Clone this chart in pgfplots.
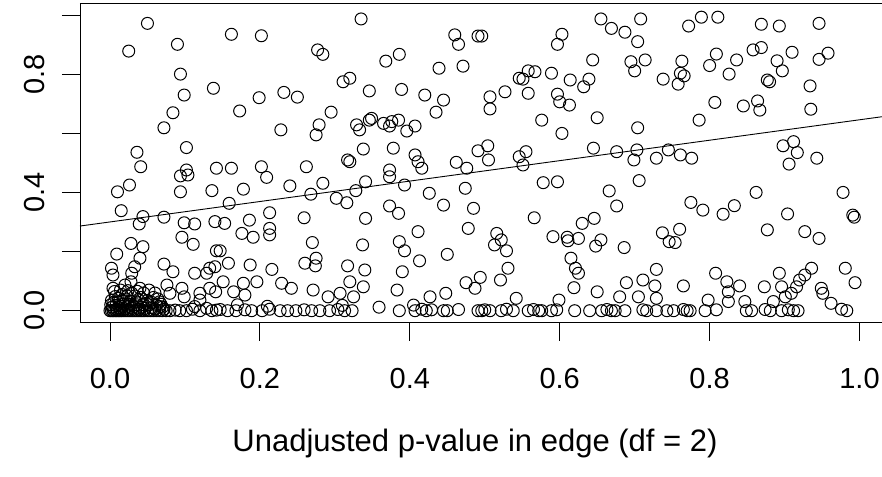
\documentclass[border=0pt]{standalone}
\usepackage{fontspec}
\setmainfont{Liberation Sans}
\usepackage{pgfplots}
\pgfplotsset{compat=1.18}
\begin{document}
\begin{tikzpicture}
\begin{axis}[
 at={(0,0)}, anchor=south west,
 scale only axis, width=802pt, height=318.6pt,
 xmin=-0.04, xmax=1.03, ymin=-0.04, ymax=1.04,
 axis x line*=bottom, axis y line*=left,
 axis line style={-, line width=0.9pt, black},
 tick align=outside, major tick length=18pt,
 tick style={line width=0.9pt, black},
 xtick={0,0.2,0.4,0.6,0.8,1.0},
 ytick={0,0.4,0.8},
 extra y ticks={0.2,0.6,1.0}, extra y tick labels={},
 /pgf/number format/assume math mode=true,
 xticklabel={\pgfmathprintnumber[fixed,fixed zerofill,precision=1]{\tick}},
 yticklabel={\pgfmathprintnumber[fixed,fixed zerofill,precision=1]{\tick}},
 ticklabel style={font=\fontsize{29}{34}\selectfont},
 xticklabel style={anchor=base, yshift=-48pt},
 yticklabel shift=17pt,
 yticklabel style={anchor=base, rotate=90},
 xlabel={Unadjusted p-value in edge (df = 2)},
 xlabel style={font=\fontsize{31}{36}\selectfont, at={(rel axis cs:0.4925,0)}, anchor=base, yshift=-129pt},
 clip=true,
]
\addplot[only marks, mark=o, mark size=6pt, mark options={line width=1pt, black}] coordinates {
(0.050,0.974)(0.025,0.880)(0.090,0.903)(0.094,0.802)(0.138,0.754)(0.099,0.731)(0.084,0.671)(0.072,0.620)(0.036,0.537)(0.102,0.553)(0.041,0.488)(0.102,0.477)(0.142,0.483)
(0.335,0.989)(0.162,0.937)(0.202,0.932)(0.277,0.884)(0.284,0.869)(0.311,0.776)(0.320,0.788)(0.346,0.745)(0.199,0.722)(0.232,0.740)(0.250,0.724)(0.173,0.677)(0.295,0.673)(0.228,0.613)(0.279,0.630)(0.275,0.596)(0.329,0.630)(0.333,0.613)(0.346,0.646)(0.338,0.548)(0.317,0.511)(0.162,0.483)(0.202,0.488)(0.262,0.488)
(0.460,0.935)(0.465,0.903)(0.491,0.931)(0.496,0.931)(0.386,0.869)(0.368,0.846)(0.439,0.822)(0.471,0.829)(0.546,0.788)(0.389,0.750)(0.420,0.731)(0.445,0.714)(0.435,0.673)(0.507,0.725)(0.527,0.742)(0.507,0.684)(0.349,0.652)(0.365,0.635)(0.376,0.641)(0.385,0.646)(0.373,0.626)(0.396,0.609)(0.407,0.626)(0.378,0.551)(0.407,0.528)(0.462,0.503)(0.491,0.542)(0.504,0.559)(0.505,0.511)(0.416,0.483)(0.373,0.477)(0.476,0.483)(0.546,0.522)
(0.655,0.989)(0.708,0.989)(0.669,0.957)(0.687,0.944)(0.704,0.912)(0.603,0.937)(0.597,0.903)(0.644,0.850)(0.695,0.844)(0.714,0.850)(0.700,0.813)(0.738,0.785)(0.558,0.813)(0.567,0.810)(0.551,0.785)(0.589,0.805)(0.614,0.782)(0.639,0.785)(0.632,0.759)(0.558,0.737)(0.597,0.734)(0.600,0.708)(0.613,0.697)(0.576,0.646)(0.650,0.654)(0.603,0.601)(0.704,0.620)(0.555,0.539)(0.551,0.494)(0.645,0.551)(0.676,0.539)(0.703,0.545)(0.699,0.511)(0.729,0.517)(0.745,0.545)
(0.772,0.965)(0.789,0.995)(0.811,0.995)(0.869,0.971)(0.893,0.965)(0.946,0.974)(0.763,0.846)(0.809,0.870)(0.800,0.831)(0.836,0.850)(0.826,0.802)(0.858,0.884)(0.869,0.892)(0.890,0.847)(0.910,0.876)(0.897,0.813)(0.877,0.782)(0.880,0.776)(0.946,0.852)(0.761,0.805)(0.766,0.796)(0.758,0.768)(0.934,0.762)(0.807,0.706)(0.845,0.694)(0.864,0.711)(0.867,0.680)(0.935,0.683)(0.786,0.646)(0.898,0.559)(0.912,0.573)(0.917,0.536)(0.906,0.497)(0.943,0.517)(0.761,0.528)(0.776,0.517)(0.958,0.873)
(0.094,0.457)(0.104,0.460)(0.026,0.426)(0.010,0.403)(0.094,0.403)(0.136,0.407)(0.015,0.339)(0.044,0.319)(0.039,0.294)(0.072,0.317)(0.099,0.298)(0.113,0.294)(0.140,0.302)(0.096,0.249)(0.111,0.225)(0.028,0.228)(0.044,0.217)(0.142,0.203)(0.009,0.192)(0.040,0.178)(0.002,0.144)(0.033,0.149)(0.029,0.127)(0.004,0.121)(0.072,0.158)(0.084,0.132)(0.113,0.127)(0.133,0.144)(0.129,0.127)(0.140,0.149)(0.028,0.098)(0.004,0.076)(0.020,0.087)(0.040,0.076)(0.076,0.087)(0.080,0.059)(0.096,0.076)(0.099,0.047)(0.120,0.059)(0.133,0.076)(0.141,0.064)(0.113,0.014)(0.129,0.008)(0.142,0.002)(0.087,0.002)(0.102,0.000)(0.067,0.014)(0.120,0.036)
(0.209,0.452)(0.320,0.505)(0.178,0.412)(0.240,0.423)(0.284,0.432)(0.268,0.395)(0.302,0.381)(0.316,0.366)(0.328,0.407)(0.341,0.437)(0.159,0.364)(0.213,0.332)(0.259,0.315)(0.341,0.313)(0.153,0.296)(0.186,0.307)(0.176,0.262)(0.191,0.249)(0.213,0.279)(0.213,0.257)(0.270,0.231)(0.337,0.223)(0.147,0.203)(0.158,0.161)(0.187,0.155)(0.260,0.161)(0.275,0.178)(0.274,0.152)(0.216,0.140)(0.317,0.152)(0.340,0.138)(0.151,0.098)(0.178,0.093)(0.196,0.098)(0.229,0.093)(0.242,0.076)(0.271,0.070)(0.320,0.098)(0.338,0.081)(0.307,0.059)(0.291,0.047)(0.165,0.064)(0.180,0.053)(0.325,0.047)
(0.411,0.505)(0.373,0.454)(0.393,0.426)(0.426,0.398)(0.445,0.358)(0.474,0.415)(0.485,0.347)(0.373,0.355)(0.385,0.330)(0.411,0.268)(0.478,0.279)(0.516,0.262)(0.522,0.240)(0.513,0.223)(0.529,0.203)(0.386,0.234)(0.393,0.203)(0.450,0.191)(0.413,0.169)(0.390,0.132)(0.531,0.144)(0.383,0.070)(0.475,0.095)(0.494,0.113)(0.487,0.076)(0.521,0.104)(0.448,0.059)(0.427,0.047)(0.542,0.042)(0.359,0.012)(0.405,0.019)
(0.578,0.434)(0.597,0.437)(0.706,0.441)(0.666,0.406)(0.676,0.355)(0.566,0.315)(0.630,0.296)(0.646,0.313)(0.591,0.251)(0.610,0.249)(0.611,0.237)(0.625,0.245)(0.655,0.240)(0.648,0.219)(0.686,0.214)(0.737,0.264)(0.746,0.234)(0.615,0.178)(0.621,0.144)(0.625,0.127)(0.619,0.078)(0.650,0.064)(0.680,0.047)(0.689,0.095)(0.711,0.104)(0.729,0.140)(0.727,0.084)(0.705,0.047)(0.729,0.042)(0.599,0.036)
(0.862,0.401)(0.775,0.367)(0.791,0.341)(0.818,0.327)(0.833,0.356)(0.904,0.328)(0.760,0.276)(0.754,0.231)(0.877,0.274)(0.927,0.268)(0.946,0.245)(0.808,0.127)(0.823,0.098)(0.840,0.084)(0.765,0.084)(0.825,0.064)(0.873,0.081)(0.893,0.127)(0.896,0.081)(0.936,0.144)(0.927,0.121)(0.920,0.104)(0.916,0.081)(0.909,0.059)(0.901,0.047)(0.798,0.036)(0.825,0.031)(0.847,0.031)(0.885,0.031)
(0.978,0.401)(0.991,0.324)(0.993,0.317)(0.981,0.144)(0.994,0.095)(0.949,0.076)(0.951,0.059)(0.962,0.025)(0.976,0.005)(0.983,0.000)
(0.000,0.000)(0.002,0.000)(0.004,0.000)(0.006,0.000)(0.008,0.000)(0.010,0.000)(0.012,0.000)(0.014,0.000)(0.016,0.000)(0.019,0.000)(0.022,0.000)(0.025,0.000)(0.028,0.000)(0.031,0.000)(0.034,0.000)(0.037,0.000)(0.040,0.000)(0.043,0.000)(0.046,0.000)(0.050,0.000)(0.054,0.000)(0.058,0.000)(0.062,0.000)(0.066,0.000)(0.070,0.000)(0.075,0.000)(0.080,0.000)
(0.003,0.012)(0.008,0.018)(0.013,0.010)(0.018,0.022)(0.024,0.015)(0.030,0.008)(0.036,0.020)(0.042,0.012)(0.048,0.025)(0.055,0.010)(0.062,0.018)(0.070,0.012)
(0.002,0.035)(0.007,0.048)(0.012,0.030)(0.016,0.055)(0.021,0.040)(0.027,0.032)(0.033,0.050)(0.038,0.038)(0.045,0.060)(0.050,0.035)(0.058,0.045)(0.066,0.030)
(0.001,0.020)(0.005,0.028)(0.009,0.005)(0.011,0.042)(0.015,0.015)(0.017,0.032)(0.020,0.006)(0.023,0.050)(0.026,0.022)(0.029,0.060)(0.032,0.014)(0.035,0.030)(0.039,0.005)(0.041,0.045)(0.044,0.020)(0.047,0.008)(0.052,0.020)(0.056,0.028)(0.060,0.006)(0.064,0.040)(0.068,0.022)(0.072,0.005)(0.006,0.065)(0.014,0.070)(0.024,0.068)(0.036,0.066)(0.052,0.070)(0.060,0.060)
(0.093,0.000)(0.110,0.005)(0.120,0.000)
(0.136,0.000)(0.147,0.004)(0.157,0.000)(0.168,0.000)(0.180,0.003)(0.189,0.000)(0.203,0.000)(0.213,0.005)(0.227,0.000)(0.237,0.000)(0.248,0.000)(0.259,0.003)(0.269,0.000)(0.280,0.000)(0.293,0.000)(0.304,0.004)(0.313,0.000)(0.323,0.000)(0.170,0.020)(0.210,0.015)(0.310,0.018)
(0.386,0.000)(0.407,0.000)(0.416,0.005)(0.422,0.000)(0.429,0.003)(0.445,0.000)(0.450,0.000)(0.465,0.004)(0.491,0.000)(0.496,0.000)(0.500,0.003)(0.507,0.000)(0.522,0.000)(0.529,0.005)(0.538,0.000)
(0.558,0.000)(0.565,0.004)(0.572,0.000)(0.576,0.000)(0.589,0.000)(0.596,0.003)(0.620,0.000)(0.640,0.000)(0.656,0.000)(0.663,0.004)(0.669,0.000)(0.674,0.000)(0.687,0.000)(0.711,0.003)(0.716,0.000)(0.729,0.000)(0.743,0.000)
(0.752,0.000)(0.765,0.004)(0.770,0.000)(0.774,0.000)(0.794,0.000)(0.809,0.003)(0.849,0.000)(0.856,0.000)(0.874,0.004)(0.881,0.000)(0.896,0.000)(0.905,0.003)(0.912,0.000)(0.918,0.000)
};
\addplot[no marks, line width=0.9pt, black] coordinates {(-0.04,0.287) (1.04,0.661)};
\draw[line width=0.9pt, black] (rel axis cs:0,1) -- (rel axis cs:1,1);
\end{axis}
\pgfresetboundingbox
\path[use as bounding box] (-80pt,-153.5pt) rectangle (802pt,322.5pt);
\end{tikzpicture}
\end{document}
